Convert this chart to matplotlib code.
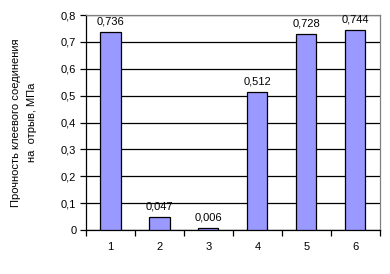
import numpy as np
import matplotlib.pyplot as plt

plt.rc('font', family='Liberation Sans', size=8)

samples = ['1', '2', '3', '4', '5', '6']
strength = [0.736, 0.047, 0.006, 0.512, 0.728, 0.744]
yticks = [0, 0.1, 0.2, 0.3, 0.4, 0.5, 0.6, 0.7, 0.8]

fig = plt.figure(figsize=(3.9, 2.74), dpi=100)
ax = fig.add_axes([0.2205, 0.1606, 0.7535, 0.7846])

x = np.arange(1, len(samples) + 1)
bars = ax.bar(x, strength, width=0.41, color='#9999ff', edgecolor='black',
              linewidth=0.9, zorder=3)

for xi, v in zip(x, strength):
    ax.annotate(('%.3f' % v).replace('.', ','), (xi, v), xytext=(0, 4),
                textcoords='offset points', ha='center', va='bottom',
                fontsize=8, zorder=4)

ax.set_xlim(0.5, len(samples) + 0.5)
ax.set_ylim(0, 0.8)
ax.set_yticks(yticks)
ax.set_yticklabels([('%g' % t).replace('.', ',') for t in yticks])
ax.yaxis.grid(True, color='black', linewidth=0.9, zorder=0)

# category ticks between bars, labels in the middle
ax.set_xticks(np.arange(0.5, len(samples) + 1, 1))
ax.set_xticklabels([])
ax.set_xticks(x, minor=True)
ax.set_xticklabels(samples, minor=True)
ax.tick_params(axis='x', which='major', length=4, direction='out', width=0.9)
ax.tick_params(axis='x', which='minor', length=0, pad=9)
ax.tick_params(axis='y', length=4, direction='out', width=0.9, pad=3)

ax.spines['left'].set_color('black')
ax.spines['bottom'].set_color('black')
ax.spines['top'].set_color('gray')
ax.spines['right'].set_color('gray')
for s in ax.spines.values():
    s.set_linewidth(0.9)

ax.set_ylabel('Прочность клеевого соединения\nна  отрыв, МПа', fontsize=8,
              linespacing=1.8, labelpad=17)

fig.savefig('out.png', dpi=100)
